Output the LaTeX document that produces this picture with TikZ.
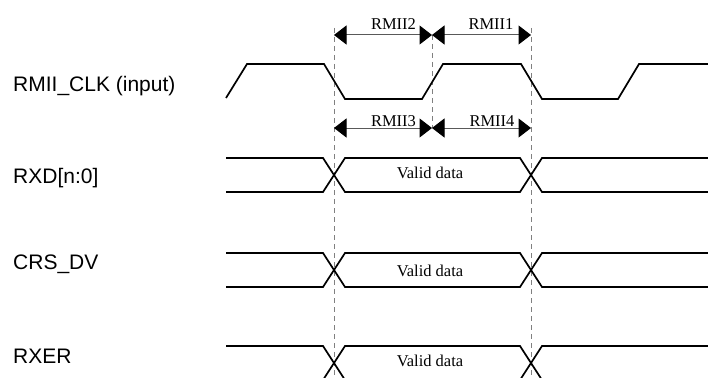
\documentclass[tikz,border=0pt]{standalone}
\usepackage{fontspec}
\setmainfont{Liberation Serif}
\newfontfamily\labfont{Liberation Sans}
\usetikzlibrary{arrows.meta}
\begin{document}
\begin{tikzpicture}[x=1pt,y=-1pt,
  sig/.style={line width=1.7pt,line join=miter},
  guide/.style={gray,line width=0.8pt,dash pattern=on 5pt off 4pt},
  meas/.style={gray!70!black,line width=1pt,
    {Triangle[length=12.5pt,width=19pt,color=black,fill=black]}-{Triangle[length=12.5pt,width=19pt,color=black,fill=black]}},
  siglabel/.style={anchor=base west,inner sep=0pt,font=\labfont\fontsize{21}{25}\selectfont},
  tlabel/.style={anchor=base,inner sep=0pt,font=\fontsize{16.5}{19}\selectfont}]
\useasboundingbox (0,0) rectangle (708,377);
\clip (0,0) rectangle (708,377);

% signal names
\node[siglabel] (lclk) at (13,92) {RMII\_CLK (input)};
\node[siglabel] (lrxd) at (13,183) {RXD[n:0]};
\node[siglabel] (lcrs) at (13,269) {CRS\_DV};
\node[siglabel] (lrxer) at (13,363) {RXER};

% guide lines
\coordinate (gA1) at (334,28);  \coordinate (gA2) at (334,377);
\coordinate (gB1) at (432,35);  \coordinate (gB2) at (432,128);
\coordinate (gC1) at (531,28);  \coordinate (gC2) at (531,377);
\draw[guide] (gA1) -- (gA2);
\draw[guide] (gB1) -- (gB2);
\draw[guide] (gC1) -- (gC2);

% clock
\draw[sig] (226,98) -- (247,64) -- (324,64) -- (345,99) -- (422,99) -- (443,64)
  -- (521,64) -- (542,99) -- (618,99) -- (639,64) -- (708,64);

% data buses
\foreach \t/\b in {158/192, 253/287, 346/380}{
  \draw[sig] (226,\t) -- (323,\t) -- (345,\b) -- (520,\b) -- (542,\t) -- (708,\t);
  \draw[sig] (226,\b) -- (323,\b) -- (345,\t) -- (520,\t) -- (542,\b) -- (708,\b);
}
\node[tlabel] (v1) at (430,178.5) {Valid data};
\node[tlabel] (v2) at (430,276.5) {Valid data};
\node[tlabel] (v3) at (430,366) {Valid data};

% measurement arrows
\coordinate (a1) at (334,35); \coordinate (a2) at (432,35); \coordinate (a3) at (531,35);
\coordinate (b1) at (334,128); \coordinate (b2) at (432,128); \coordinate (b3) at (531,128);
\draw[meas] (a1) -- (a2);
\draw[meas] (a2) -- (a3);
\draw[meas] (b1) -- (b2);
\draw[meas] (b2) -- (b3);
\node[tlabel] (r2) at (393.5,29.3) {RMII2};
\node[tlabel] (r1) at (491,29.3) {RMII1};
\node[tlabel] (r3) at (393.5,126) {RMII3};
\node[tlabel] (r4) at (492,126) {RMII4};
\end{tikzpicture}
\end{document}
